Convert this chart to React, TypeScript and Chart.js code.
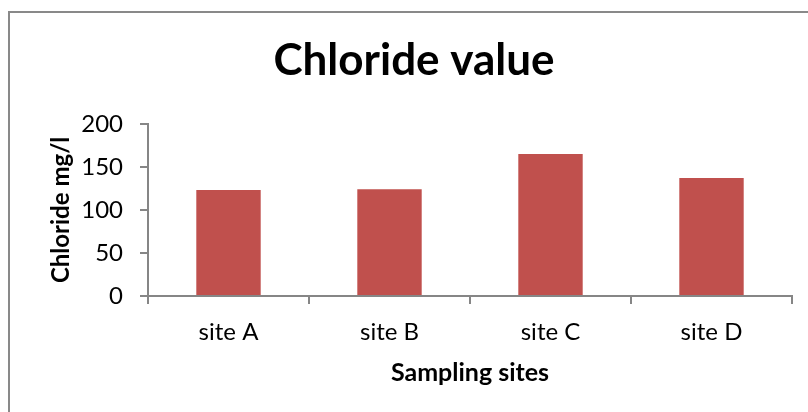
import React, { useEffect, useRef } from "react";
import { Chart, registerables } from "chart.js";

Chart.register(...registerables);

const categories = ["site A", "site B", "site C", "site D"];
const chlorideValues = [123, 124, 165, 137];
const chartTitle = "Chloride value";
const yAxisTitle = "Chloride mg/l";
const xAxisTitle = "Sampling sites";

const FONT = "Lato, 'Open Sans', sans-serif";
const AXIS_GRAY = "#868686";

const framePlugin = {
  id: "frame",
  beforeDraw(chart: any) {
    const { ctx, width, height } = chart;
    ctx.save();
    ctx.fillStyle = "#ffffff";
    ctx.fillRect(0, 0, width, height);
    ctx.strokeStyle = "#898989";
    ctx.lineWidth = 2;
    ctx.beginPath();
    ctx.moveTo(9, height + 2);
    ctx.lineTo(9, 12);
    ctx.lineTo(width + 2, 12);
    ctx.stroke();
    ctx.restore();
  },
};

export default function App() {
  const canvasRef = useRef<HTMLCanvasElement | null>(null);

  useEffect(() => {
    if (!canvasRef.current) return;
    const chart = new Chart(canvasRef.current, {
      type: "bar",
      data: {
        labels: categories,
        datasets: [
          {
            label: "Chloride",
            data: chlorideValues,
            backgroundColor: "#C0504D",
            borderWidth: 0,
            categoryPercentage: 1,
            barPercentage: 0.4,
          },
        ],
      },
      options: {
        animation: false,
        responsive: false,
        maintainAspectRatio: false,
        devicePixelRatio: 1,
        layout: { padding: { left: 36, right: 16, top: 0, bottom: 0 } },
        plugins: {
          legend: { display: false },
          tooltip: { enabled: false },
          title: {
            display: true,
            text: chartTitle,
            color: "#000000",
            font: { family: FONT, size: 44, weight: "bold", lineHeight: 1.2 },
            padding: { top: 34, bottom: 37 },
          },
        },
        scales: {
          x: {
            type: "category",
            afterFit: (scale: any) => {
              scale.height = 116;
            },
            grid: {
              display: true,
              offset: true,
              drawOnChartArea: false,
              drawTicks: true,
              tickLength: 8,
              color: AXIS_GRAY,
              lineWidth: 2,
            },
            border: { display: true, color: AXIS_GRAY, width: 2 },
            ticks: {
              color: "#000000",
              font: { family: FONT, size: 24, lineHeight: 1.2 },
              padding: 14,
              maxRotation: 0,
            },
            title: {
              display: true,
              text: xAxisTitle,
              color: "#000000",
              font: { family: FONT, size: 25, weight: "bold", lineHeight: 1.2 },
              padding: { top: 0, bottom: 24 },
            },
          },
          y: {
            min: 0,
            max: 200,
            afterFit: (scale: any) => {
              scale.width = 112;
            },
            grid: {
              display: true,
              drawOnChartArea: false,
              drawTicks: true,
              tickLength: 8,
              color: AXIS_GRAY,
              lineWidth: 2,
            },
            border: { display: true, color: AXIS_GRAY, width: 2 },
            ticks: {
              stepSize: 50,
              color: "#000000",
              font: { family: FONT, size: 24, lineHeight: 1.2 },
              padding: 17,
            },
            title: {
              display: true,
              text: yAxisTitle,
              color: "#000000",
              font: { family: FONT, size: 24, weight: "bold", lineHeight: 1.2 },
              padding: { top: 11, bottom: 0 },
            },
          },
        },
      },
      plugins: [framePlugin],
    });
    return () => chart.destroy();
  }, []);

  return (
    <div style={{ position: "fixed", left: 0, top: 0, width: 808, height: 412, background: "#fff" }}>
      <canvas ref={canvasRef} width={808} height={412} style={{ width: 808, height: 412, display: "block" }} />
    </div>
  );
}
